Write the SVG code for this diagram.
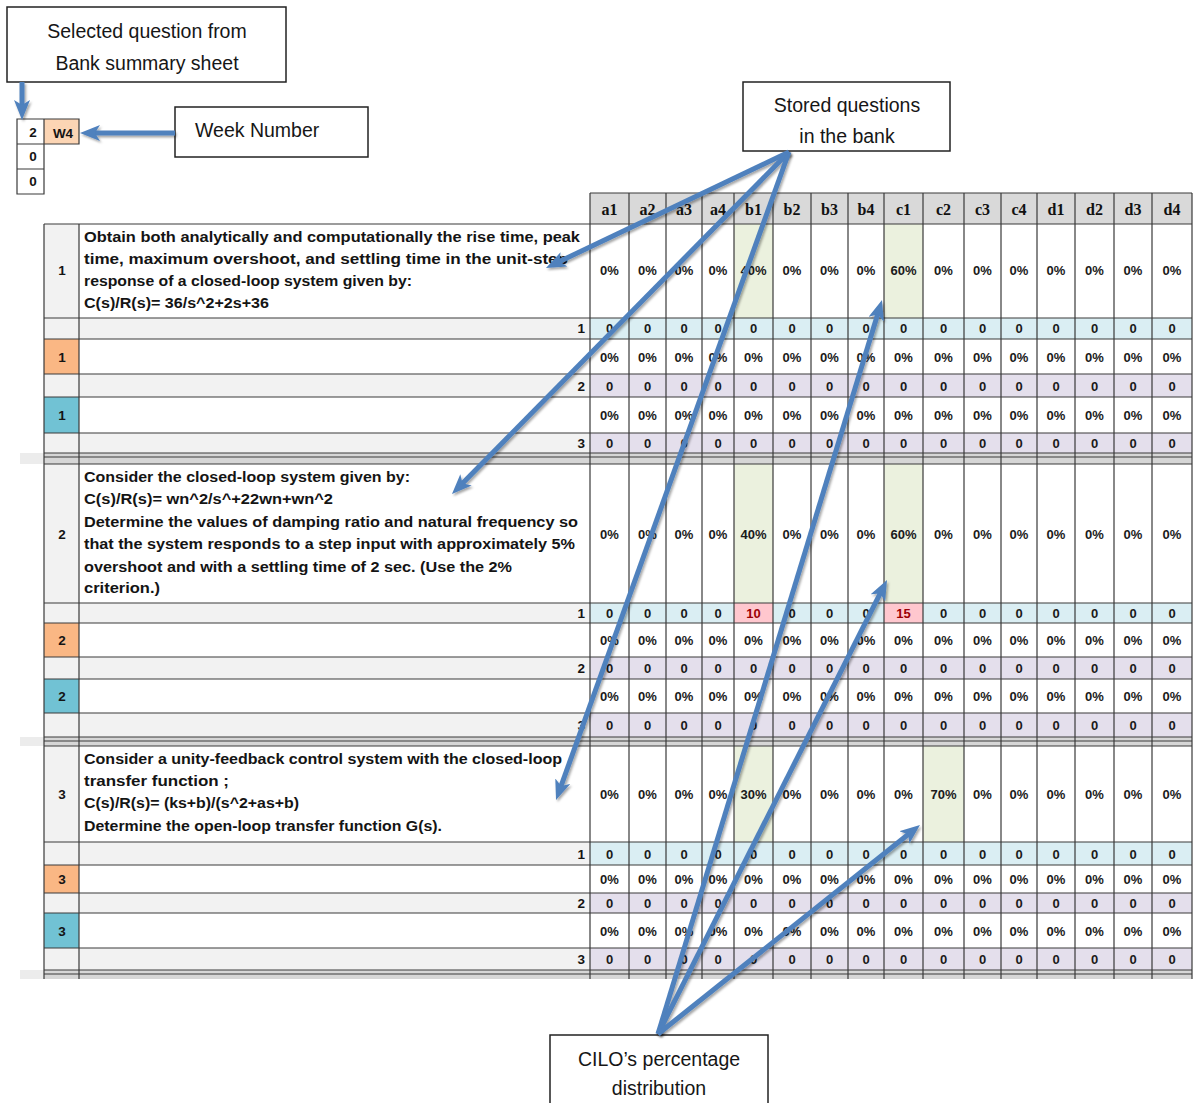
<svg xmlns="http://www.w3.org/2000/svg" width="1195" height="1103" viewBox="0 0 1195 1103">
<style>
.lg{fill:#f2f2f2}.wh{fill:#fff}.bl{fill:#daeef3}.pu{fill:#e4dfec}.hd{fill:#d9d9d9}.gn{fill:#ebf1de}.or{fill:#fab784}.te{fill:#71c2d4}.pk{fill:#ffc7ce}.sp{fill:#d6d6d6}.sx{fill:#ececec}
.gl{stroke:#3a3a3a;stroke-width:1.2;fill:none}
.v{font-family:"Liberation Sans",Arial,sans-serif;font-weight:bold;font-size:13px;fill:#1a1a1a;text-anchor:middle}
.rd{fill:#9c0006}
.q{font-family:"Liberation Sans",Arial,sans-serif;font-weight:bold;font-size:14px;fill:#141414}
.n{font-family:"Liberation Sans",Arial,sans-serif;font-weight:bold;font-size:13.5px;fill:#141414;text-anchor:middle}
.nr{font-family:"Liberation Sans",Arial,sans-serif;font-weight:bold;font-size:13.5px;fill:#141414;text-anchor:end}
.h{font-family:"Liberation Serif","Times New Roman",serif;font-weight:bold;font-size:16px;fill:#111;text-anchor:middle}
.box{fill:#fff;stroke:#222;stroke-width:1.5}
.bt{font-family:"Liberation Sans",Arial,sans-serif;font-size:19.5px;fill:#161616}
.arr{stroke:#4f81bd;stroke-width:5;fill:none;marker-end:url(#ah);filter:url(#sh)}
</style>
<defs>
<marker id="ah" viewBox="0 0 20 16" refX="8" refY="8" markerWidth="20" markerHeight="16" markerUnits="userSpaceOnUse" orient="auto">
<path d="M0,0 L20,8 L0,16 L5,8 Z" fill="#4f81bd"/>
</marker>
<filter id="sh" filterUnits="userSpaceOnUse" x="0" y="0" width="1195" height="1103">
<feDropShadow dx="1.5" dy="2" stdDeviation="1.2" flood-color="#000" flood-opacity="0.35"/>
</filter>
</defs>

<g id="top-table">
<rect x="17" y="119" width="27" height="25" class="wh"/>
<rect x="44" y="119" width="35" height="25" fill="#fcd5b4"/>
<rect x="17" y="144" width="27" height="25" class="wh"/>
<rect x="17" y="169" width="27" height="25" class="wh"/>
<path class="gl" d="M17,119 H79 V144 H17 Z M44,119 V144 M17,144 V194 H44 V144 M17,169 H44"/>
<text x="33" y="137" class="n" font-size="10">2</text>
<text x="63" y="137.5" class="n" font-size="13">W4</text>
<text x="33" y="161" class="n" font-size="10">0</text>
<text x="33" y="186" class="n" font-size="10">0</text>
</g>

<g id="table-fills">
<rect x="590" y="193" width="602" height="31" class="hd"/>
<rect x="44" y="224" width="35" height="94" class="lg"/>
<rect x="79" y="224" width="1113" height="94" class="wh"/>
<rect x="734" y="224" width="39" height="94" class="gn"/>
<rect x="884" y="224" width="39" height="94" class="gn"/>
<rect x="44" y="318" width="546" height="21" class="lg"/><rect x="590" y="318" width="602" height="21" class="bl"/>
<rect x="44" y="339" width="35" height="35" class="or"/><rect x="79" y="339" width="1113" height="35" class="wh"/>
<rect x="44" y="374" width="546" height="23" class="lg"/><rect x="590" y="374" width="602" height="23" class="pu"/>
<rect x="44" y="397" width="35" height="36" class="te"/><rect x="79" y="397" width="1113" height="36" class="wh"/>
<rect x="44" y="433" width="546" height="20" class="lg"/><rect x="590" y="433" width="602" height="20" class="pu"/>
<rect x="20" y="453" width="24" height="11" class="sx"/><rect x="44" y="453" width="1148" height="11" class="sp"/>
<rect x="44" y="464" width="35" height="139" class="lg"/>
<rect x="79" y="464" width="1113" height="139" class="wh"/>
<rect x="734" y="464" width="39" height="139" class="gn"/>
<rect x="884" y="464" width="39" height="139" class="gn"/>
<rect x="44" y="603" width="546" height="20" class="lg"/><rect x="590" y="603" width="602" height="20" class="bl"/>
<rect x="734" y="603" width="39" height="20" class="pk"/><rect x="884" y="603" width="39" height="20" class="pk"/>
<rect x="44" y="623" width="35" height="34" class="or"/><rect x="79" y="623" width="1113" height="34" class="wh"/>
<rect x="44" y="657" width="546" height="22" class="lg"/><rect x="590" y="657" width="602" height="22" class="pu"/>
<rect x="44" y="679" width="35" height="34" class="te"/><rect x="79" y="679" width="1113" height="34" class="wh"/>
<rect x="44" y="713" width="546" height="24" class="lg"/><rect x="590" y="713" width="602" height="24" class="pu"/>
<rect x="20" y="737" width="24" height="9" class="sx"/><rect x="44" y="737" width="1148" height="9" class="sp"/>
<rect x="44" y="746" width="35" height="96" class="lg"/>
<rect x="79" y="746" width="1113" height="96" class="wh"/>
<rect x="734" y="746" width="39" height="96" class="gn"/>
<rect x="923" y="746" width="41" height="96" class="gn"/>
<rect x="44" y="842" width="546" height="23" class="lg"/><rect x="590" y="842" width="602" height="23" class="bl"/>
<rect x="44" y="865" width="35" height="28" class="or"/><rect x="79" y="865" width="1113" height="28" class="wh"/>
<rect x="44" y="893" width="546" height="20" class="lg"/><rect x="590" y="893" width="602" height="20" class="pu"/>
<rect x="44" y="913" width="35" height="35" class="te"/><rect x="79" y="913" width="1113" height="35" class="wh"/>
<rect x="44" y="948" width="546" height="22" class="lg"/><rect x="590" y="948" width="602" height="22" class="pu"/>
<rect x="20" y="970" width="24" height="9" class="sx"/><rect x="44" y="970" width="1148" height="9" class="sp"/>
</g>

<g id="grid">
<path class="gl" d="M590,193 H1192 M44,224 H1192 M44,318 H1192 M44,339 H1192 M44,374 H1192 M44,397 H1192 M44,433 H1192 M44,453 H1192 M44,457 H1192 M44,464 H1192
M44,603 H1192 M44,623 H1192 M44,657 H1192 M44,679 H1192 M44,713 H1192 M44,737 H1192 M44,741 H1192 M44,746 H1192
M44,842 H1192 M44,865 H1192 M44,893 H1192 M44,913 H1192 M44,948 H1192 M44,970 H1192 M44,974 H1192"/>
<path class="gl" d="M44,224 V979 M79,224 V979 M590,193 V979 M629,193 V979 M666,193 V979 M702,193 V979 M734,193 V979 M773,193 V979 M811,193 V979 M848,193 V979 M884,193 V979 M923,193 V979 M964,193 V979 M1001,193 V979 M1037,193 V979 M1075,193 V979 M1114,193 V979 M1152,193 V979 M1192,193 V979"/>
</g>

<g id="header">
<text y="215" class="h"><tspan x="609.5">a1</tspan><tspan x="647.5">a2</tspan><tspan x="684">a3</tspan><tspan x="718">a4</tspan><tspan x="753.5">b1</tspan><tspan x="792">b2</tspan><tspan x="829.5">b3</tspan><tspan x="866">b4</tspan><tspan x="903.5">c1</tspan><tspan x="943.5">c2</tspan><tspan x="982.5">c3</tspan><tspan x="1019">c4</tspan><tspan x="1056">d1</tspan><tspan x="1094.5">d2</tspan><tspan x="1133">d3</tspan><tspan x="1172">d4</tspan></text>
</g>

<g id="question-1">
<text x="62" y="275" class="n">1</text>
<text x="84" y="242" class="q" textLength="496" lengthAdjust="spacingAndGlyphs"> Obtain both  analytically and computationally the rise time, peak</text>
<text x="84" y="264" class="q" textLength="484" lengthAdjust="spacingAndGlyphs">time, maximum overshoot, and settling time in the unit-step</text>
<text x="84" y="286" class="q" textLength="328" lengthAdjust="spacingAndGlyphs">response of a closed-loop system given by:</text>
<text x="84" y="308" class="q" textLength="185" lengthAdjust="spacingAndGlyphs">C(s)/R(s)= 36/s^2+2s+36</text>
<text y="275" class="v"><tspan x="609.5">0%</tspan><tspan x="647.5">0%</tspan><tspan x="684">0%</tspan><tspan x="718">0%</tspan><tspan x="753.5">40%</tspan><tspan x="792">0%</tspan><tspan x="829.5">0%</tspan><tspan x="866">0%</tspan><tspan x="903.5">60%</tspan><tspan x="943.5">0%</tspan><tspan x="982.5">0%</tspan><tspan x="1019">0%</tspan><tspan x="1056">0%</tspan><tspan x="1094.5">0%</tspan><tspan x="1133">0%</tspan><tspan x="1172">0%</tspan></text>
<text x="585" y="333" class="nr">1</text>
<text y="333" class="v"><tspan x="609.5">0</tspan><tspan x="647.5">0</tspan><tspan x="684">0</tspan><tspan x="718">0</tspan><tspan x="753.5">0</tspan><tspan x="792">0</tspan><tspan x="829.5">0</tspan><tspan x="866">0</tspan><tspan x="903.5">0</tspan><tspan x="943.5">0</tspan><tspan x="982.5">0</tspan><tspan x="1019">0</tspan><tspan x="1056">0</tspan><tspan x="1094.5">0</tspan><tspan x="1133">0</tspan><tspan x="1172">0</tspan></text>
<text x="62" y="361.5" class="n">1</text>
<text y="361.5" class="v"><tspan x="609.5">0%</tspan><tspan x="647.5">0%</tspan><tspan x="684">0%</tspan><tspan x="718">0%</tspan><tspan x="753.5">0%</tspan><tspan x="792">0%</tspan><tspan x="829.5">0%</tspan><tspan x="866">0%</tspan><tspan x="903.5">0%</tspan><tspan x="943.5">0%</tspan><tspan x="982.5">0%</tspan><tspan x="1019">0%</tspan><tspan x="1056">0%</tspan><tspan x="1094.5">0%</tspan><tspan x="1133">0%</tspan><tspan x="1172">0%</tspan></text>
<text x="585" y="390.5" class="nr">2</text>
<text y="390.5" class="v"><tspan x="609.5">0</tspan><tspan x="647.5">0</tspan><tspan x="684">0</tspan><tspan x="718">0</tspan><tspan x="753.5">0</tspan><tspan x="792">0</tspan><tspan x="829.5">0</tspan><tspan x="866">0</tspan><tspan x="903.5">0</tspan><tspan x="943.5">0</tspan><tspan x="982.5">0</tspan><tspan x="1019">0</tspan><tspan x="1056">0</tspan><tspan x="1094.5">0</tspan><tspan x="1133">0</tspan><tspan x="1172">0</tspan></text>
<text x="62" y="420" class="n">1</text>
<text y="420" class="v"><tspan x="609.5">0%</tspan><tspan x="647.5">0%</tspan><tspan x="684">0%</tspan><tspan x="718">0%</tspan><tspan x="753.5">0%</tspan><tspan x="792">0%</tspan><tspan x="829.5">0%</tspan><tspan x="866">0%</tspan><tspan x="903.5">0%</tspan><tspan x="943.5">0%</tspan><tspan x="982.5">0%</tspan><tspan x="1019">0%</tspan><tspan x="1056">0%</tspan><tspan x="1094.5">0%</tspan><tspan x="1133">0%</tspan><tspan x="1172">0%</tspan></text>
<text x="585" y="448" class="nr">3</text>
<text y="448" class="v"><tspan x="609.5">0</tspan><tspan x="647.5">0</tspan><tspan x="684">0</tspan><tspan x="718">0</tspan><tspan x="753.5">0</tspan><tspan x="792">0</tspan><tspan x="829.5">0</tspan><tspan x="866">0</tspan><tspan x="903.5">0</tspan><tspan x="943.5">0</tspan><tspan x="982.5">0</tspan><tspan x="1019">0</tspan><tspan x="1056">0</tspan><tspan x="1094.5">0</tspan><tspan x="1133">0</tspan><tspan x="1172">0</tspan></text>
</g>

<g id="question-2">
<text x="62" y="539" class="n">2</text>
<text x="84" y="482" class="q" textLength="326" lengthAdjust="spacingAndGlyphs"> Consider the closed-loop system given by:</text>
<text x="84" y="504" class="q" textLength="249" lengthAdjust="spacingAndGlyphs">C(s)/R(s)= wn^2/s^+22wn+wn^2</text>
<text x="84" y="527" class="q" textLength="494" lengthAdjust="spacingAndGlyphs">Determine the values of damping ratio and natural frequency so</text>
<text x="84" y="549" class="q" textLength="491" lengthAdjust="spacingAndGlyphs">that the system responds to a step input with approximately 5%</text>
<text x="84" y="572" class="q" textLength="428" lengthAdjust="spacingAndGlyphs">overshoot and with a settling time of 2 sec. (Use the 2%</text>
<text x="84" y="593" class="q" textLength="76" lengthAdjust="spacingAndGlyphs">criterion.)</text>
<text y="539" class="v"><tspan x="609.5">0%</tspan><tspan x="647.5">0%</tspan><tspan x="684">0%</tspan><tspan x="718">0%</tspan><tspan x="753.5">40%</tspan><tspan x="792">0%</tspan><tspan x="829.5">0%</tspan><tspan x="866">0%</tspan><tspan x="903.5">60%</tspan><tspan x="943.5">0%</tspan><tspan x="982.5">0%</tspan><tspan x="1019">0%</tspan><tspan x="1056">0%</tspan><tspan x="1094.5">0%</tspan><tspan x="1133">0%</tspan><tspan x="1172">0%</tspan></text>
<text x="585" y="618" class="nr">1</text>
<text y="618" class="v"><tspan x="609.5">0</tspan><tspan x="647.5">0</tspan><tspan x="684">0</tspan><tspan x="718">0</tspan><tspan x="753.5" class="rd">10</tspan><tspan x="792">0</tspan><tspan x="829.5">0</tspan><tspan x="866">0</tspan><tspan x="903.5" class="rd">15</tspan><tspan x="943.5">0</tspan><tspan x="982.5">0</tspan><tspan x="1019">0</tspan><tspan x="1056">0</tspan><tspan x="1094.5">0</tspan><tspan x="1133">0</tspan><tspan x="1172">0</tspan></text>
<text x="62" y="645" class="n">2</text>
<text y="645" class="v"><tspan x="609.5">0%</tspan><tspan x="647.5">0%</tspan><tspan x="684">0%</tspan><tspan x="718">0%</tspan><tspan x="753.5">0%</tspan><tspan x="792">0%</tspan><tspan x="829.5">0%</tspan><tspan x="866">0%</tspan><tspan x="903.5">0%</tspan><tspan x="943.5">0%</tspan><tspan x="982.5">0%</tspan><tspan x="1019">0%</tspan><tspan x="1056">0%</tspan><tspan x="1094.5">0%</tspan><tspan x="1133">0%</tspan><tspan x="1172">0%</tspan></text>
<text x="585" y="673" class="nr">2</text>
<text y="673" class="v"><tspan x="609.5">0</tspan><tspan x="647.5">0</tspan><tspan x="684">0</tspan><tspan x="718">0</tspan><tspan x="753.5">0</tspan><tspan x="792">0</tspan><tspan x="829.5">0</tspan><tspan x="866">0</tspan><tspan x="903.5">0</tspan><tspan x="943.5">0</tspan><tspan x="982.5">0</tspan><tspan x="1019">0</tspan><tspan x="1056">0</tspan><tspan x="1094.5">0</tspan><tspan x="1133">0</tspan><tspan x="1172">0</tspan></text>
<text x="62" y="701" class="n">2</text>
<text y="701" class="v"><tspan x="609.5">0%</tspan><tspan x="647.5">0%</tspan><tspan x="684">0%</tspan><tspan x="718">0%</tspan><tspan x="753.5">0%</tspan><tspan x="792">0%</tspan><tspan x="829.5">0%</tspan><tspan x="866">0%</tspan><tspan x="903.5">0%</tspan><tspan x="943.5">0%</tspan><tspan x="982.5">0%</tspan><tspan x="1019">0%</tspan><tspan x="1056">0%</tspan><tspan x="1094.5">0%</tspan><tspan x="1133">0%</tspan><tspan x="1172">0%</tspan></text>
<text x="585" y="730" class="nr">3</text>
<text y="730" class="v"><tspan x="609.5">0</tspan><tspan x="647.5">0</tspan><tspan x="684">0</tspan><tspan x="718">0</tspan><tspan x="753.5">0</tspan><tspan x="792">0</tspan><tspan x="829.5">0</tspan><tspan x="866">0</tspan><tspan x="903.5">0</tspan><tspan x="943.5">0</tspan><tspan x="982.5">0</tspan><tspan x="1019">0</tspan><tspan x="1056">0</tspan><tspan x="1094.5">0</tspan><tspan x="1133">0</tspan><tspan x="1172">0</tspan></text>
</g>

<g id="question-3">
<text x="62" y="799" class="n">3</text>
<text x="84" y="764" class="q" textLength="478" lengthAdjust="spacingAndGlyphs">Consider a unity-feedback control system with the closed-loop</text>
<text x="84" y="786" class="q" textLength="145" lengthAdjust="spacingAndGlyphs">transfer function  ;</text>
<text x="84" y="808" class="q" textLength="215" lengthAdjust="spacingAndGlyphs">C(s)/R(s)= (ks+b)/(s^2+as+b)</text>
<text x="84" y="831" class="q" textLength="358" lengthAdjust="spacingAndGlyphs">Determine the open-loop transfer function G(s).</text>
<text y="799" class="v"><tspan x="609.5">0%</tspan><tspan x="647.5">0%</tspan><tspan x="684">0%</tspan><tspan x="718">0%</tspan><tspan x="753.5">30%</tspan><tspan x="792">0%</tspan><tspan x="829.5">0%</tspan><tspan x="866">0%</tspan><tspan x="903.5">0%</tspan><tspan x="943.5">70%</tspan><tspan x="982.5">0%</tspan><tspan x="1019">0%</tspan><tspan x="1056">0%</tspan><tspan x="1094.5">0%</tspan><tspan x="1133">0%</tspan><tspan x="1172">0%</tspan></text>
<text x="585" y="858.5" class="nr">1</text>
<text y="858.5" class="v"><tspan x="609.5">0</tspan><tspan x="647.5">0</tspan><tspan x="684">0</tspan><tspan x="718">0</tspan><tspan x="753.5">0</tspan><tspan x="792">0</tspan><tspan x="829.5">0</tspan><tspan x="866">0</tspan><tspan x="903.5">0</tspan><tspan x="943.5">0</tspan><tspan x="982.5">0</tspan><tspan x="1019">0</tspan><tspan x="1056">0</tspan><tspan x="1094.5">0</tspan><tspan x="1133">0</tspan><tspan x="1172">0</tspan></text>
<text x="62" y="884" class="n">3</text>
<text y="884" class="v"><tspan x="609.5">0%</tspan><tspan x="647.5">0%</tspan><tspan x="684">0%</tspan><tspan x="718">0%</tspan><tspan x="753.5">0%</tspan><tspan x="792">0%</tspan><tspan x="829.5">0%</tspan><tspan x="866">0%</tspan><tspan x="903.5">0%</tspan><tspan x="943.5">0%</tspan><tspan x="982.5">0%</tspan><tspan x="1019">0%</tspan><tspan x="1056">0%</tspan><tspan x="1094.5">0%</tspan><tspan x="1133">0%</tspan><tspan x="1172">0%</tspan></text>
<text x="585" y="908" class="nr">2</text>
<text y="908" class="v"><tspan x="609.5">0</tspan><tspan x="647.5">0</tspan><tspan x="684">0</tspan><tspan x="718">0</tspan><tspan x="753.5">0</tspan><tspan x="792">0</tspan><tspan x="829.5">0</tspan><tspan x="866">0</tspan><tspan x="903.5">0</tspan><tspan x="943.5">0</tspan><tspan x="982.5">0</tspan><tspan x="1019">0</tspan><tspan x="1056">0</tspan><tspan x="1094.5">0</tspan><tspan x="1133">0</tspan><tspan x="1172">0</tspan></text>
<text x="62" y="935.5" class="n">3</text>
<text y="935.5" class="v"><tspan x="609.5">0%</tspan><tspan x="647.5">0%</tspan><tspan x="684">0%</tspan><tspan x="718">0%</tspan><tspan x="753.5">0%</tspan><tspan x="792">0%</tspan><tspan x="829.5">0%</tspan><tspan x="866">0%</tspan><tspan x="903.5">0%</tspan><tspan x="943.5">0%</tspan><tspan x="982.5">0%</tspan><tspan x="1019">0%</tspan><tspan x="1056">0%</tspan><tspan x="1094.5">0%</tspan><tspan x="1133">0%</tspan><tspan x="1172">0%</tspan></text>
<text x="585" y="964" class="nr">3</text>
<text y="964" class="v"><tspan x="609.5">0</tspan><tspan x="647.5">0</tspan><tspan x="684">0</tspan><tspan x="718">0</tspan><tspan x="753.5">0</tspan><tspan x="792">0</tspan><tspan x="829.5">0</tspan><tspan x="866">0</tspan><tspan x="903.5">0</tspan><tspan x="943.5">0</tspan><tspan x="982.5">0</tspan><tspan x="1019">0</tspan><tspan x="1056">0</tspan><tspan x="1094.5">0</tspan><tspan x="1133">0</tspan><tspan x="1172">0</tspan></text>
</g>

<g id="callout-selected">
<rect x="7" y="7" width="279" height="75" class="box"/>
<text x="147" y="38" class="bt" text-anchor="middle">Selected question from</text>
<text x="147" y="70" class="bt" text-anchor="middle">Bank summary sheet</text>
</g>
<g id="callout-week">
<rect x="175" y="107" width="193" height="50" class="box"/>
<text x="195" y="137" class="bt">Week Number</text>
</g>
<g id="callout-stored">
<rect x="743" y="82" width="207" height="69" class="box"/>
<text x="847" y="112" class="bt" text-anchor="middle">Stored questions</text>
<text x="847" y="143" class="bt" text-anchor="middle">in the bank</text>
</g>
<g id="callout-cilo">
<rect x="550" y="1035" width="218" height="80" class="box"/>
<text x="659" y="1066" class="bt" text-anchor="middle">CILO’s percentage</text>
<text x="659" y="1095" class="bt" text-anchor="middle">distribution</text>
</g>

<g id="connectors">
<line class="arr" x1="22" y1="82" x2="22" y2="108"/>
<line class="arr" x1="175" y1="133" x2="92" y2="133"/>
<line class="arr" x1="789" y1="152" x2="556.8" y2="262.8"/>
<line class="arr" x1="789" y1="152" x2="460.4" y2="485.5"/>
<line class="arr" x1="789" y1="152" x2="560.1" y2="788.7"/>
<line class="arr" x1="658" y1="1034" x2="878.5" y2="311.5"/>
<line class="arr" x1="658" y1="1034" x2="881.6" y2="590.7"/>
<line class="arr" x1="658" y1="1034" x2="910.6" y2="832.5"/>
</g>
</svg>
